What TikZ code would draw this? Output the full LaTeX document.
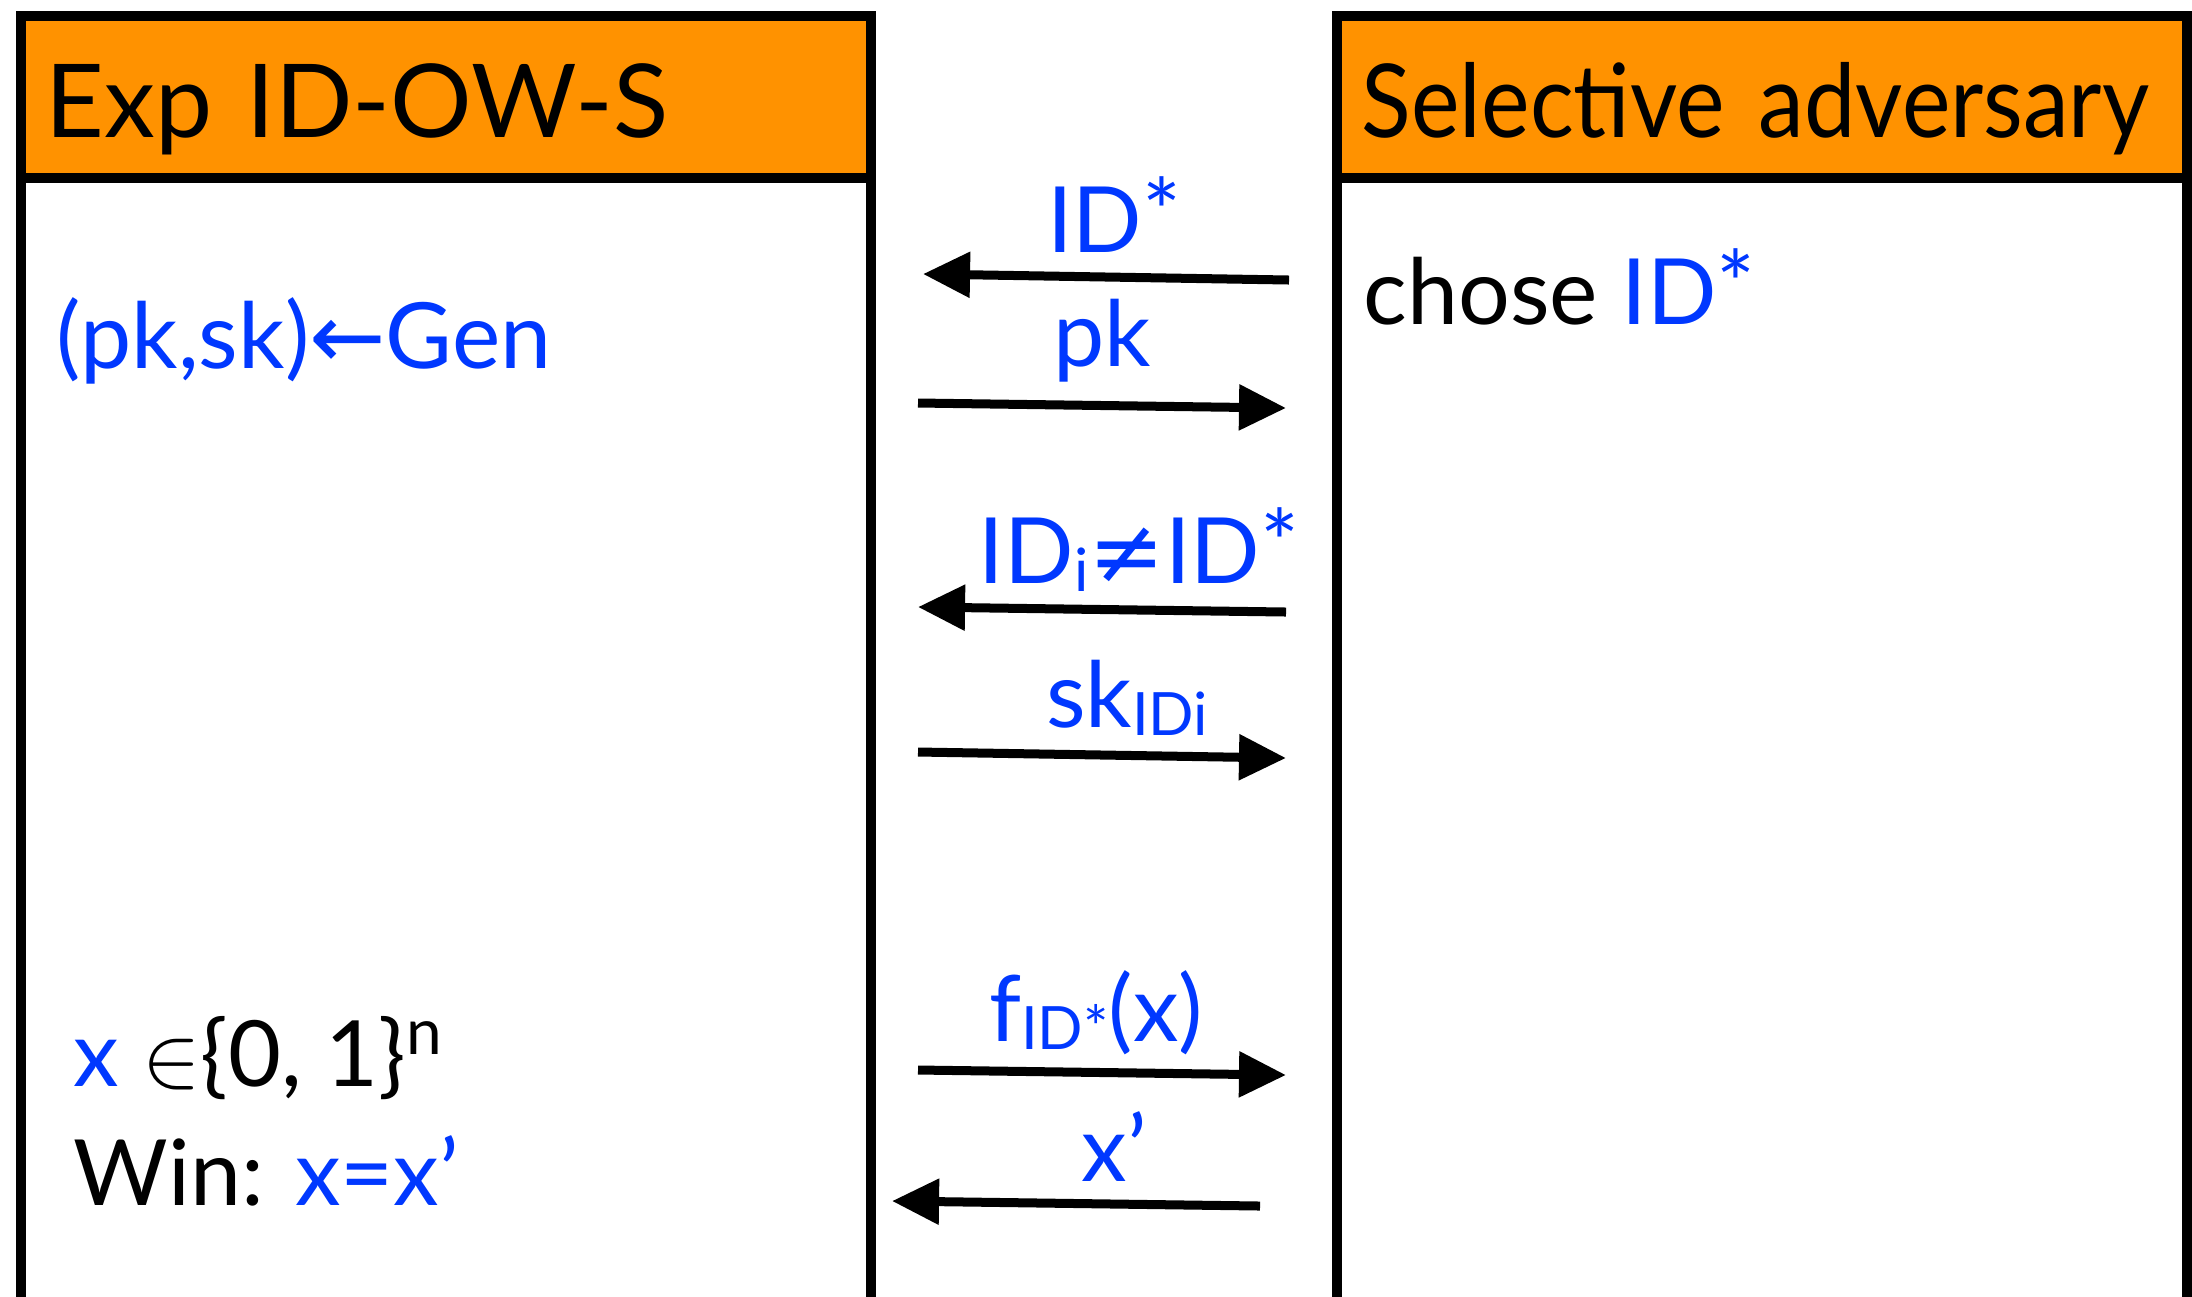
\documentclass[tikz,border=0pt]{standalone}
\usepackage{fontspec}
\setmainfont{Lato}
\newfontfamily\narrowfont[FakeStretch=0.9]{Lato}
\newfontfamily\symfont{DejaVu Sans}
\usetikzlibrary{arrows.meta}
\usepackage{xcolor}
\definecolor{msgblue}{RGB}{0,56,255}
\definecolor{headorange}{RGB}{255,146,0}
\newcommand{\lowtxt}[1]{\raisebox{-0.08cm}{\fontsize{17}{17}\selectfont #1}}
\newcommand{\strx}{\raisebox{0.15ex}{*}}

\begin{document}
\begin{tikzpicture}[x=0.01cm,y=-0.01cm]
\tikzstyle{header} = [rectangle, draw=black, line width=0.1cm, fill=headorange,
text width=8cm, inner xsep=0.25cm, inner ysep=0pt, outer sep=0pt,
minimum height=1.62cm, text height=1.0cm, text depth=0.2cm, align=left,
font=\fontsize{29}{30}\selectfont]
\tikzstyle{body} = [rectangle, draw=black, line width=0.1cm, fill=white,
minimum width=8.5cm, minimum height=11.4cm, inner sep=0pt, outer sep=0pt, anchor=north]
\tikzstyle{msg} = [text=msgblue, inner sep=0pt, font=\fontsize{26}{28}\selectfont]
\tikzstyle{plain} = [text=black, inner sep=0pt, font=\fontsize{26}{28}\selectfont]
\tikzstyle{line} = [draw, line width=0.09cm, -{Triangle[length=0.47cm,width=0.44cm]}]
\useasboundingbox (0,0) rectangle (2192,1296);

% the two parties
\node [header] (exphead) at (446,97) {Exp ID-OW-S};
\node [body] (expbody) at (exphead.south) {};
\node [header] (advhead) at (1762,97) {\narrowfont Selective adversary};
\node [body] (advbody) at (advhead.south) {};

% what each side does
\node [msg, anchor=base west] (gen) at (56,368) {(pk,sk){\symfont ←}Gen};
\node [plain, anchor=base west] (chose) at (1363,324) {chose \textcolor{msgblue}{ID\strx}};
\node [plain, anchor=base west] (xin) at (73,1086) {\textcolor{msgblue}{x} $\in$\{0, 1\}\textsuperscript{n}};
\node [plain, anchor=base west] (win) at (73,1205) {Win: \textcolor{msgblue}{x=x’}};

% message ends
\coordinate (s1) at (1289,280); \coordinate (e1) at (923,274);
\coordinate (s2) at (918,403);  \coordinate (e2) at (1286,408);
\coordinate (s3) at (1286,612); \coordinate (e3) at (918,607);
\coordinate (s4) at (918,752);  \coordinate (e4) at (1286,758);
\coordinate (s5) at (918,1070); \coordinate (e5) at (1286,1075);
\coordinate (s6) at (1260,1206); \coordinate (e6) at (892,1201);

\tikzstyle{every path}=[line]
\path (s1) -- node [msg, anchor=base, yshift=0.25cm, xshift=0.08cm] (m1) {ID\strx} (e1);
\path (s2) -- node [msg, anchor=base, yshift=0.39cm] (m2) {pk} (e2);
\path (s3) -- node [msg, anchor=base, yshift=0.26cm, xshift=0.37cm] (m3) {ID\lowtxt{i}{\symfont ≠}ID\strx} (e3);
\path (s4) -- node [msg, anchor=base, yshift=0.28cm, xshift=0.25cm] (m4) {sk\lowtxt{IDi}} (e4);
\path (s5) -- node [msg, anchor=base, yshift=0.31cm, xshift=-0.06cm] (m5) {f\lowtxt{ID*}(x)} (e5);
\path (s6) -- node [msg, anchor=base, yshift=0.22cm, xshift=0.38cm] (m6) {x’} (e6);

\end{tikzpicture}
\end{document}
